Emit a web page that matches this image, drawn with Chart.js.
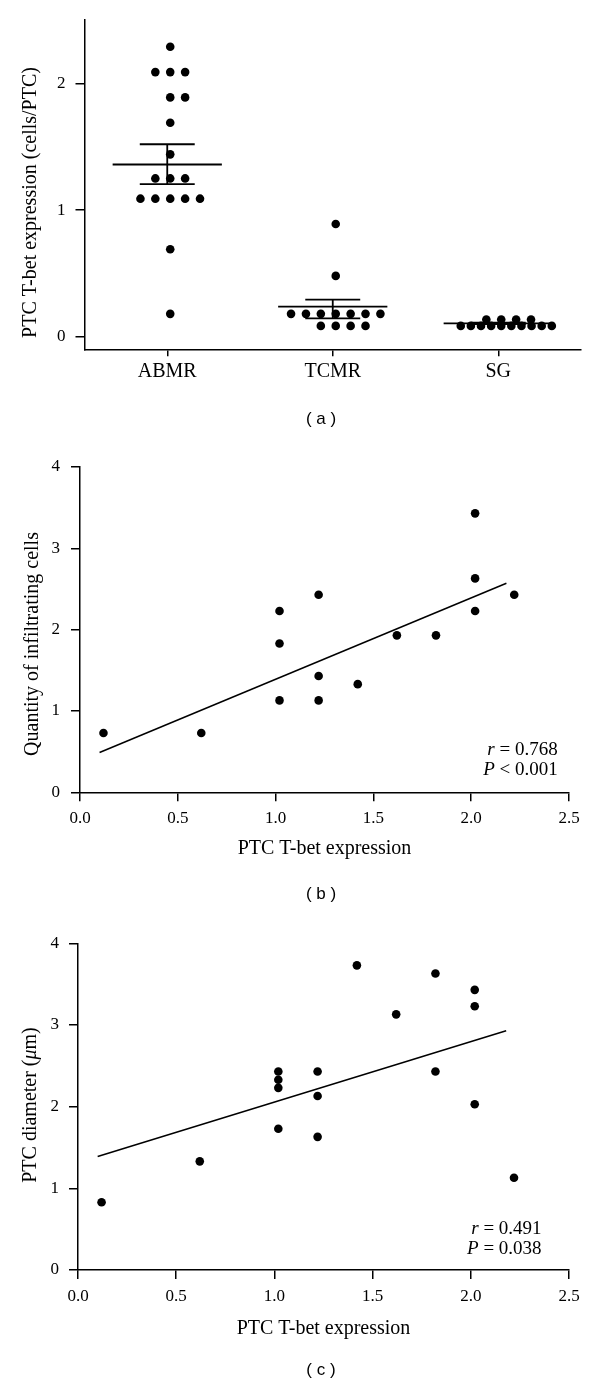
<!DOCTYPE html>
<html><head><meta charset="utf-8">
<script src="https://cdn.jsdelivr.net/npm/chart.js@4/dist/chart.umd.min.js"></script>
<style>
html,body{margin:0;padding:0;background:#fff;width:600px;height:1389px;overflow:hidden}
canvas{position:absolute;left:0}
</style></head><body>
<canvas id="ca" width="600" height="440" style="top:0px"></canvas>
<canvas id="cb" width="600" height="470" style="top:440px"></canvas>
<canvas id="cc" width="600" height="479" style="top:910px"></canvas>
<script>
// ---------- Panel (a) data ----------
const categories = ['ABMR', 'TCMR', 'SG'];
const abmrValues = [2.29, 2.09, 2.09, 2.09, 1.89, 1.89, 1.69, 1.44, 1.25, 1.25, 1.25, 1.09, 1.09, 1.09, 1.09, 1.09, 0.69, 0.18];
const tcmrValues = [0.89, 0.48, 0.18, 0.18, 0.18, 0.18, 0.18, 0.18, 0.18, 0.085, 0.085, 0.085, 0.085];
const sgValues = [0.135, 0.135, 0.135, 0.135, 0.085, 0.085, 0.085, 0.085, 0.085, 0.085, 0.085, 0.085, 0.085, 0.085];
const groupMeans = [1.36, 0.237, 0.105];
const semUpper = [1.52, 0.292, 0.11];
const semLower = [1.205, 0.145, 0.10];
const aYTicks = [0, 1, 2];
const aYTitle = 'PTC T-bet expression (cells/PTC)';

// ---------- Panel (b) data ----------
const bTbet = [0.12, 0.62, 1.02, 1.02, 1.02, 1.22, 1.22, 1.22, 1.42, 1.62, 1.82, 2.02, 2.02, 2.02, 2.22];
const bCells = [0.73, 0.73, 2.23, 1.83, 1.13, 2.43, 1.43, 1.13, 1.33, 1.93, 1.93, 3.43, 2.63, 2.23, 2.43];
const bFitX = [0.10, 2.18];
const bFitY = [0.49, 2.57];
const bYTitle = 'Quantity of infiltrating cells';
const bStats = [['r', ' = 0.768'], ['P', ' < 0.001']];

// ---------- Panel (c) data ----------
const cTbet = [0.12, 0.62, 1.02, 1.02, 1.02, 1.02, 1.22, 1.22, 1.22, 1.42, 1.62, 1.82, 1.82, 2.02, 2.02, 2.02, 2.22];
const cDiam = [0.83, 1.33, 2.43, 2.33, 2.23, 1.73, 2.43, 2.13, 1.63, 3.73, 3.13, 3.63, 2.43, 3.43, 3.23, 2.03, 1.13];
const cFitX = [0.10, 2.18];
const cFitY = [1.39, 2.93];
const cYTitle = ['PTC diameter (', 'μ', 'm)'];
const cStats = [['r', ' = 0.491'], ['P', ' = 0.038']];

// ---------- shared tick labels ----------
const xyXTicks = [0, 0.5, 1, 1.5, 2, 2.5];
const xyXLabels = ['0.0', '0.5', '1.0', '1.5', '2.0', '2.5'];
const xyYTicks = [0, 1, 2, 3, 4];
const xTitleText = 'PTC T-bet expression';
const captions = ['( a )', '( b )', '( c )'];

// ---------- styling ----------
const SERIF = "'Liberation Serif', 'Times New Roman', serif";
const SANS = "'Liberation Sans', Arial, sans-serif";
const BLACK = '#000';
const DOT_R = 4.3;

// beeswarm layout of identical values in rows
function swarm(values, center, spacing, maxHalf) {
  const rows = new Map();
  values.forEach(v => { if (!rows.has(v)) rows.set(v, 0); rows.set(v, rows.get(v) + 1); });
  const pts = [];
  rows.forEach((n, v) => {
    const s = n > 1 ? Math.min(spacing, 2 * maxHalf / (n - 1)) : spacing;
    for (let i = 0; i < n; i++) {
      const k = i === 0 ? 0 : (i % 2 === 1 ? (i + 1) / 2 : -i / 2);
      pts.push({ x: center + k * s, y: v });
    }
  });
  return pts;
}

function drawRuns(ctx, runs, x, y, align, size, family) {
  let total = 0;
  const ws = runs.map(r => {
    ctx.font = (r.it ? 'italic ' : '') + size + 'px ' + family;
    const w = ctx.measureText(r.t).width; total += w; return w;
  });
  let cx = align === 'right' ? x - total : (align === 'center' ? x - total / 2 : x);
  ctx.textBaseline = 'middle'; ctx.textAlign = 'left'; ctx.fillStyle = BLACK;
  runs.forEach((r, i) => {
    ctx.font = (r.it ? 'italic ' : '') + size + 'px ' + family;
    ctx.fillText(r.t, cx, y); cx += ws[i];
  });
}

function textPlugin(cfg) {
  return {
    id: 'texts',
    afterDraw(chart) {
      const ctx = chart.ctx, ca = chart.chartArea;
      ctx.save();
      // rotated y title
      ctx.save();
      ctx.translate(cfg.yTitle.x, cfg.yTitle.y);
      ctx.rotate(-Math.PI / 2);
      drawRuns(ctx, cfg.yTitle.runs, 0, 0, 'center', 20, SERIF);
      ctx.restore();
      // stats
      if (cfg.stats) {
        cfg.stats.forEach((s, i) => {
          drawRuns(ctx, [{ t: s[0], it: true }, { t: s[1], it: false }],
            ca.right - cfg.statsRight, ca.bottom - cfg.statsBottom + i * 20, 'right', 19, SERIF);
        });
      }
      // caption
      ctx.font = '17px ' + SANS; ctx.textAlign = 'center'; ctx.textBaseline = 'middle'; ctx.fillStyle = BLACK;
      ctx.fillText(cfg.caption.text, cfg.caption.x, cfg.caption.y);
      ctx.restore();
    }
  };
}

function axisCommon(tickLen, pad) {
  return {
    grid: { display: true, drawOnChartArea: false, drawTicks: true, tickLength: tickLen, color: BLACK, lineWidth: 1.5 },
    border: { display: true, color: BLACK, width: 1.5 },
    ticks: { color: BLACK, font: { family: SERIF, size: 17 }, padding: pad }
  };
}

Chart.defaults.font.family = SERIF;

// ---------- Panel (a) ----------
(function () {
  const groups = [abmrValues, tcmrValues, sgValues];
  const shift = 0.018;
  const dots = [];
  groups.forEach((vals, i) => swarm(vals, i + shift, 0.09, 0.275).forEach(p => dots.push(p)));
  const datasets = [{ data: dots, pointRadius: DOT_R, pointHoverRadius: DOT_R, backgroundColor: BLACK, borderWidth: 0, showLine: false }];
  const lineDs = (pts) => ({ data: pts, showLine: true, borderColor: BLACK, borderWidth: 1.8, pointRadius: 0, fill: false });
  groupMeans.forEach((m, i) => {
    datasets.push(lineDs([{ x: i - 0.33, y: m }, { x: i + 0.33, y: m }]));
    datasets.push(lineDs([{ x: i - 0.166, y: semUpper[i] }, { x: i + 0.166, y: semUpper[i] }]));
    datasets.push(lineDs([{ x: i - 0.166, y: semLower[i] }, { x: i + 0.166, y: semLower[i] }]));
    datasets.push(lineDs([{ x: i, y: semLower[i] }, { x: i, y: semUpper[i] }]));
  });
  const xAx = axisCommon(7, 3);
  const yAx = axisCommon(9, 10);
  new Chart(document.getElementById('ca'), {
    type: 'scatter',
    data: { datasets },
    options: {
      responsive: false, animation: false, devicePixelRatio: 1,
      layout: { padding: { left: 0, right: 19, top: 20, bottom: 0 } },
      plugins: { legend: { display: false }, tooltip: { enabled: false } },
      scales: {
        x: Object.assign(xAx, {
          type: 'linear', min: -0.5, max: 2.5,
          afterBuildTicks: s => { s.ticks = categories.map((c, i) => ({ value: i })); },
          ticks: Object.assign(xAx.ticks, { font: { family: SERIF, size: 20 }, callback: v => categories[v] }),
          afterFit: s => { s.height = 90.7; }
        }),
        y: Object.assign(yAx, {
          type: 'linear', min: -0.1, max: 2.5,
          afterBuildTicks: s => { s.ticks = aYTicks.map(v => ({ value: v })); },
          ticks: Object.assign(yAx.ticks, { callback: v => String(v) }),
          afterFit: s => { s.width = 84.5; }
        })
      }
    },
    plugins: [textPlugin({
      yTitle: { x: 30.7, y: 202.5, runs: [{ t: aYTitle }] },
      caption: { text: captions[0], x: 321, y: 419 }
    })]
  });
})();

// ---------- Panels (b) and (c) ----------
function xyChart(id, xs, ys, fitX, fitY, opts) {
  const xAx = axisCommon(9, 7);
  const yAx = axisCommon(9, opts.yPad);
  new Chart(document.getElementById(id), {
    type: 'scatter',
    data: {
      datasets: [
        { data: xs.map((x, i) => ({ x, y: ys[i] })), pointRadius: DOT_R, pointHoverRadius: DOT_R, backgroundColor: BLACK, borderWidth: 0, showLine: false },
        { data: fitX.map((x, i) => ({ x, y: fitY[i] })), showLine: true, borderColor: BLACK, borderWidth: 1.5, pointRadius: 0, fill: false }
      ]
    },
    options: {
      responsive: false, animation: false, devicePixelRatio: 1,
      layout: { padding: { left: 0, right: opts.right, top: opts.top, bottom: 0 } },
      plugins: { legend: { display: false }, tooltip: { enabled: false } },
      scales: {
        x: Object.assign(xAx, {
          type: 'linear', min: 0, max: 2.5,
          afterBuildTicks: s => { s.ticks = xyXTicks.map(v => ({ value: v })); },
          ticks: Object.assign(xAx.ticks, { callback: (v, i) => xyXLabels[i] }),
          title: { display: true, text: xTitleText, color: BLACK, font: { family: SERIF, size: 20 }, padding: { top: 0, bottom: opts.xTitlePad } },
          afterFit: s => { s.height = opts.xHeight; }
        }),
        y: Object.assign(yAx, {
          type: 'linear', min: 0, max: 4,
          afterBuildTicks: s => { s.ticks = xyYTicks.map(v => ({ value: v })); },
          ticks: Object.assign(yAx.ticks, { callback: v => String(v) }),
          afterFit: s => { s.width = opts.yWidth; }
        })
      }
    },
    plugins: [textPlugin(opts.texts)]
  });
}

xyChart('cb', bTbet, bCells, bFitX, bFitY, {
  right: 31, top: 27, yWidth: 80, xHeight: 117.7, xTitlePad: 49.5, yPad: 11,
  texts: {
    yTitle: { x: 32.6, y: 204, runs: [{ t: bYTitle }] },
    stats: bStats, statsRight: 11.3, statsBottom: 42,
    caption: { text: captions[1], x: 321, y: 454 }
  }
});

xyChart('cc', cTbet, cDiam, cFitX, cFitY, {
  right: 31, top: 33.3, yWidth: 78, xHeight: 119, xTitlePad: 48, yPad: 10,
  texts: {
    yTitle: { x: 30.7, y: 195, runs: [{ t: cYTitle[0] }, { t: cYTitle[1], it: true }, { t: cYTitle[2] }] },
    stats: cStats, statsRight: 27.4, statsBottom: 40.7,
    caption: { text: captions[2], x: 321, y: 460 }
  }
});
</script>
</body></html>
